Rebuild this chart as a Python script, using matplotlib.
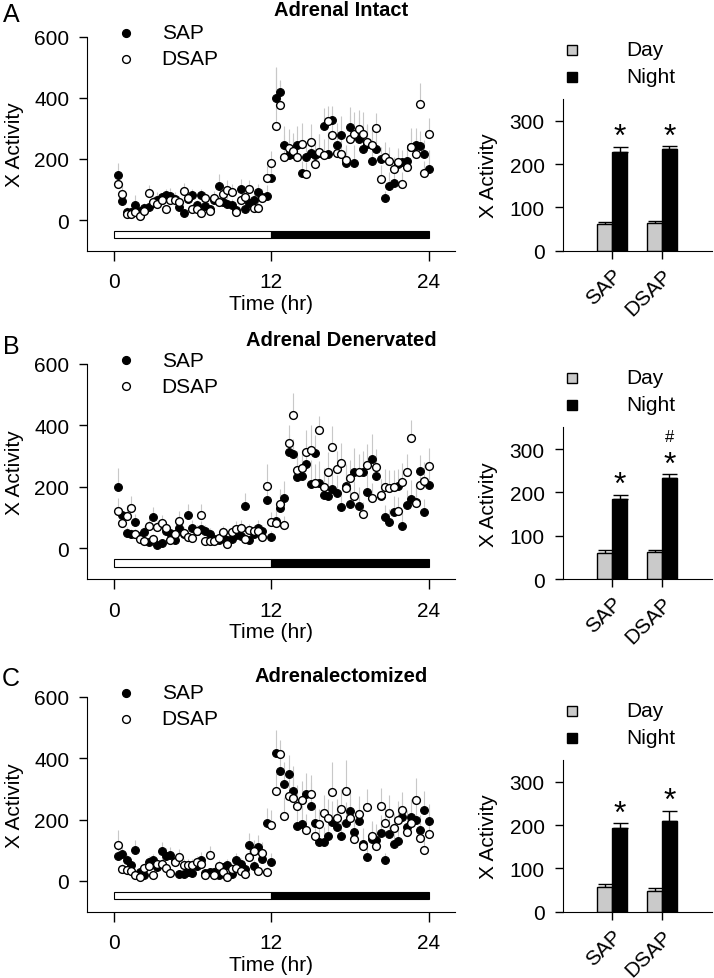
import numpy as np
import matplotlib
matplotlib.use('Agg')
from matplotlib import pyplot as plt

plt.rcParams['font.family'] = ['Liberation Sans', 'DejaVu Sans']

# 20-min bins over 24 h
time_hr = np.arange(1, 73) / 3.0

# Panel A - Adrenal Intact
a_sap = [149, 62, 27, 25, 51, 30, 40, 42, 55, 67, 75, 81, 80, 70, 43, 22, 70, 81, 50, 81, 47, 35, 65, 111,
         60, 54, 49, 33, 103, 36, 55, 65, 92, 75, 79, 138, 401, 418, 247, 212, 215, 247, 155, 207, 218, 212,
         218, 307, 217, 328, 247, 279, 188, 304, 186, 266, 232, 250, 195, 234, 199, 74, 111, 120, 185, 190,
         193, 240, 245, 242, 217, 168]
a_dsap = [118, 87, 20, 20, 25, 14, 30, 90, 60, 52, 65, 36, 67, 67, 58, 95, 71, 38, 35, 22, 71, 30, 71, 60,
          87, 100, 92, 27, 65, 76, 101, 40, 40, 71, 138, 186, 307, 375, 207, 237, 225, 205, 248, 151, 255, 182,
          223, 212, 323, 280, 218, 217, 196, 264, 283, 299, 283, 255, 245, 302, 134, 207, 195, 166, 190, 117,
          174, 239, 215, 379, 155, 283]
a_sap_err = [38, 20, 15, 10, 30, 12, 15, 20, 20, 25, 15, 20, 25, 20, 15, 10, 25, 20, 15, 20, 15, 10, 20, 40,
             20, 25, 20, 10, 30, 15, 20, 25, 25, 20, 35, 50, 100, 40, 60, 50, 55, 60, 40, 50, 60, 50, 65, 60,
             70, 45, 70, 60, 50, 65, 60, 70, 65, 60, 50, 60, 40, 20, 45, 40, 45, 40, 45, 60, 55, 50, 45, 60]
a_dsap_err = [25, 30, 10, 10, 15, 8, 15, 25, 20, 20, 20, 15, 20, 25, 20, 25, 20, 15, 12, 10, 20, 12, 25, 20,
              30, 30, 25, 10, 25, 25, 30, 20, 20, 30, 40, 40, 190, 80, 70, 60, 60, 55, 70, 40, 60, 50, 60, 55,
              50, 70, 60, 55, 50, 75, 70, 60, 70, 60, 55, 50, 45, 50, 45, 40, 45, 40, 45, 50, 55, 70, 40, 50]

# Panel B - Adrenal Denervated
b_sap = [201, 108, 49, 47, 87, 40, 52, 22, 103, 12, 16, 57, 49, 28, 65, 45, 110, 66, 55, 63, 57, 47, 30, 28,
         35, 28, 30, 43, 40, 139, 28, 45, 66, 57, 157, 36, 90, 130, 164, 312, 307, 231, 234, 274, 209, 309,
         213, 174, 171, 193, 180, 136, 204, 144, 247, 139, 247, 182, 291, 236, 170, 101, 87, 119, 204, 74,
         141, 161, 150, 253, 117, 207]
b_dsap = [123, 81, 106, 131, 47, 30, 25, 74, 30, 70, 82, 65, 28, 47, 90, 49, 36, 34, 57, 108, 23, 23, 23, 34,
          52, 14, 52, 63, 66, 30, 60, 57, 57, 36, 204, 87, 82, 144, 76, 342, 435, 256, 261, 315, 321, 213, 386,
          201, 247, 329, 258, 277, 195, 228, 169, 247, 112, 271, 164, 264, 174, 199, 195, 199, 123, 217, 247,
          358, 148, 207, 220, 267]
b_sap_err = [60, 20, 20, 15, 25, 15, 20, 10, 30, 10, 10, 20, 20, 15, 20, 20, 35, 25, 20, 25, 20, 20, 15, 15,
             15, 15, 15, 20, 20, 40, 15, 20, 25, 20, 50, 20, 40, 50, 55, 60, 50, 60, 60, 70, 80, 60, 70, 60,
             60, 70, 60, 50, 70, 60, 80, 60, 70, 60, 80, 60, 55, 40, 40, 50, 55, 40, 50, 60, 55, 50, 45, 60]
b_dsap_err = [40, 25, 35, 40, 15, 15, 10, 25, 15, 20, 25, 20, 10, 20, 30, 20, 15, 15, 20, 35, 10, 10, 10, 15,
              20, 10, 20, 25, 25, 15, 20, 20, 20, 15, 70, 30, 30, 50, 30, 60, 70, 60, 60, 70, 80, 60, 45, 60,
              65, 70, 60, 65, 55, 60, 50, 60, 40, 70, 50, 60, 50, 60, 60, 55, 45, 60, 60, 60, 50, 55, 60, 60]

# Panel C - Adrenalectomized
c_sap = [81, 87, 67, 51, 100, 30, 18, 62, 67, 45, 98, 81, 86, 65, 22, 24, 30, 26, 50, 69, 25, 28, 29, 18,
         45, 51, 24, 67, 56, 40, 116, 48, 110, 70, 189, 62, 417, 357, 316, 349, 294, 178, 186, 282, 243, 188,
         127, 127, 145, 192, 175, 146, 188, 229, 159, 195, 121, 78, 138, 135, 156, 67, 154, 121, 129, 208,
         175, 208, 200, 165, 232, 195]
c_dsap = [116, 40, 37, 33, 18, 13, 43, 48, 18, 54, 54, 43, 27, 62, 78, 51, 51, 51, 62, 54, 21, 83, 18, 48,
          30, 13, 40, 43, 33, 24, 78, 97, 31, 91, 29, 181, 292, 414, 213, 276, 271, 243, 264, 167, 284, 145,
          186, 221, 206, 289, 206, 233, 294, 206, 138, 217, 113, 240, 145, 114, 244, 189, 221, 172, 200, 230,
          161, 190, 264, 141, 102, 152]
c_sap_err = [30, 25, 20, 15, 35, 10, 10, 20, 20, 15, 30, 25, 25, 20, 10, 10, 15, 10, 20, 25, 10, 15, 15, 10,
             15, 20, 10, 25, 20, 15, 40, 20, 40, 25, 50, 30, 75, 60, 70, 60, 80, 60, 60, 70, 80, 60, 50, 50,
             60, 70, 60, 50, 70, 60, 50, 60, 50, 30, 50, 50, 60, 25, 50, 45, 50, 60, 55, 60, 60, 50, 60, 55]
c_dsap_err = [50, 15, 15, 12, 10, 8, 15, 20, 10, 20, 20, 15, 10, 20, 25, 20, 20, 20, 20, 20, 10, 30, 10, 20,
              10, 8, 15, 15, 12, 10, 30, 35, 15, 35, 15, 50, 60, 45, 60, 60, 60, 70, 60, 50, 60, 50, 50, 60,
              60, 100, 60, 65, 100, 60, 50, 60, 40, 60, 50, 40, 60, 55, 60, 50, 60, 60, 50, 55, 70, 50, 40, 50]

titles = ['Adrenal Intact', 'Adrenal Denervated', 'Adrenalectomized']
letters = ['A', 'B', 'C']
series = [(a_sap, a_dsap, a_sap_err, a_dsap_err),
          (b_sap, b_dsap, b_sap_err, b_dsap_err),
          (c_sap, c_dsap, c_sap_err, c_dsap_err)]

# bar chart summaries: [SAP, DSAP]
groups = ['SAP', 'DSAP']
day_means = [[61, 65], [60, 62], [56, 48]]
day_errs = [[6, 3], [7, 4], [8, 7]]
night_means = [[227, 235], [185, 232], [193, 210]]
night_errs = [[13, 6], [10, 10], [11, 23]]
marks = [[['*'], ['*']], [['*'], ['*', '#']], [['*'], ['*']]]

W, H = 714., 979.
fig = plt.figure(figsize=(W / 100, H / 100), dpi=100)

ax_tops = [37.7, 365.0, 697.7]
ax_bottoms = [251.7, 580.0, 912.7]
title_y = [10, 341, 677]
letter_y = [15, 347, 679]
FS = 15
MS = 5.6


def style_axes(ax):
    ax.spines['top'].set_visible(False)
    ax.spines['right'].set_visible(False)
    ax.tick_params(direction='out', labelsize=FS, width=1)


for k in range(3):
    top, bot = ax_tops[k], ax_bottoms[k]
    # time-course panel
    ax = fig.add_axes([87.3 / W, 1 - bot / H, (455 - 87.3) / W, (bot - top) / H])
    style_axes(ax)
    sap, dsap, sap_err, dsap_err = [np.array(s, dtype=float) for s in series[k]]
    ax.vlines(time_hr, sap, sap + sap_err, color='#c8c8c8', lw=0.8, zorder=1)
    ax.vlines(time_hr, dsap, dsap + dsap_err, color='#c8c8c8', lw=0.8, zorder=1)
    ax.plot(time_hr, sap, 'o', ms=MS, mfc='black', mec='black', mew=0.8, zorder=3)
    ax.plot(time_hr, dsap, 'o', ms=MS, mfc='white', mec='black', mew=1.0, zorder=4)
    # light / dark bar
    ax.barh(-47, 12, left=0, height=25, color='white', edgecolor='black', lw=0.8, zorder=2)
    ax.barh(-47, 12, left=12, height=25, color='black', edgecolor='black', lw=0.8, zorder=2)
    ax.set_xlim(-2, 26)
    ax.set_ylim(-100, 600)
    ax.set_xticks([0, 12, 24])
    ax.set_yticks([0, 200, 400, 600])
    ax.tick_params(axis='x', length=7.5, pad=8)
    ax.tick_params(axis='y', length=6, pad=7)
    ax.set_xlabel('Time (hr)', fontsize=FS, labelpad=2)
    # legend
    ax.plot([0.92], [613], 'o', ms=MS, mfc='black', mec='black', clip_on=False)
    ax.plot([0.92], [528], 'o', ms=MS, mfc='white', mec='black', mew=1.0, clip_on=False)
    ax.text(3.66, 613, 'SAP', fontsize=FS, va='center', ha='left')
    ax.text(3.66, 528, 'DSAP', fontsize=FS, va='center', ha='left')
    fig.text(15 / W, 1 - (top + bot) / 2 / H, 'X Activity', rotation=90, ha='center', va='center', fontsize=FS)
    fig.text(341 / W, 1 - title_y[k] / H, titles[k], ha='center', va='center', fontsize=14.5, fontweight='bold')
    fig.text(11 / W, 1 - letter_y[k] / H, letters[k], ha='center', va='center', fontsize=18)

    # day / night bar panel
    bh = 350 * 0.4333
    bx = fig.add_axes([562.7 / W, 1 - bot / H, (711.7 - 562.7) / W, bh / H])
    style_axes(bx)
    pos = np.arange(1, len(groups) + 1)
    bx.bar(pos - 0.15, day_means[k], 0.3, color='#cacaca', edgecolor='black', lw=1, zorder=2)
    bx.bar(pos + 0.15, night_means[k], 0.3, color='black', edgecolor='black', lw=1, zorder=2)
    bx.errorbar(pos - 0.15, day_means[k], yerr=[np.zeros(2), day_errs[k]], fmt='none', ecolor='black',
                elinewidth=1, capsize=5.4, capthick=1, zorder=1)
    bx.errorbar(pos + 0.15, night_means[k], yerr=[np.zeros(2), night_errs[k]], fmt='none', ecolor='black',
                elinewidth=1, capsize=5.4, capthick=1, zorder=1)
    for g in range(len(groups)):
        ytop = night_means[k][g] + night_errs[k][g]
        for m in marks[k][g]:
            if m == '*':
                bx.annotate(m, (pos[g] + 0.15, ytop), xytext=(0, -4), textcoords='offset points',
                            ha='center', va='bottom', fontsize=23)
            else:
                bx.annotate(m, (pos[g] + 0.15, ytop), xytext=(0, 22), textcoords='offset points',
                            ha='center', va='bottom', fontsize=12)
    bx.set_xlim(0, 3)
    bx.set_ylim(0, 350)
    bx.set_yticks([0, 100, 200, 300])
    bx.set_xticks(pos)
    bx.set_xticklabels(groups, rotation=45, ha='right', rotation_mode='anchor')
    bx.tick_params(axis='y', length=6, pad=7)
    bx.tick_params(axis='x', length=6, pad=4)
    fig.text(489 / W, 1 - (bot - bh / 2) / H, 'X Activity', rotation=90, ha='center', va='center', fontsize=FS)
    # legend above the bars
    bx.plot([0.18], [464], 's', ms=7, mfc='#cacaca', mec='black', clip_on=False)
    bx.plot([0.18], [402], 's', ms=7, mfc='black', mec='black', clip_on=False)
    bx.text(1.27, 464, 'Day', fontsize=FS, va='center', ha='left')
    bx.text(1.27, 402, 'Night', fontsize=FS, va='center', ha='left')

fig.savefig('out.png', dpi=100)
